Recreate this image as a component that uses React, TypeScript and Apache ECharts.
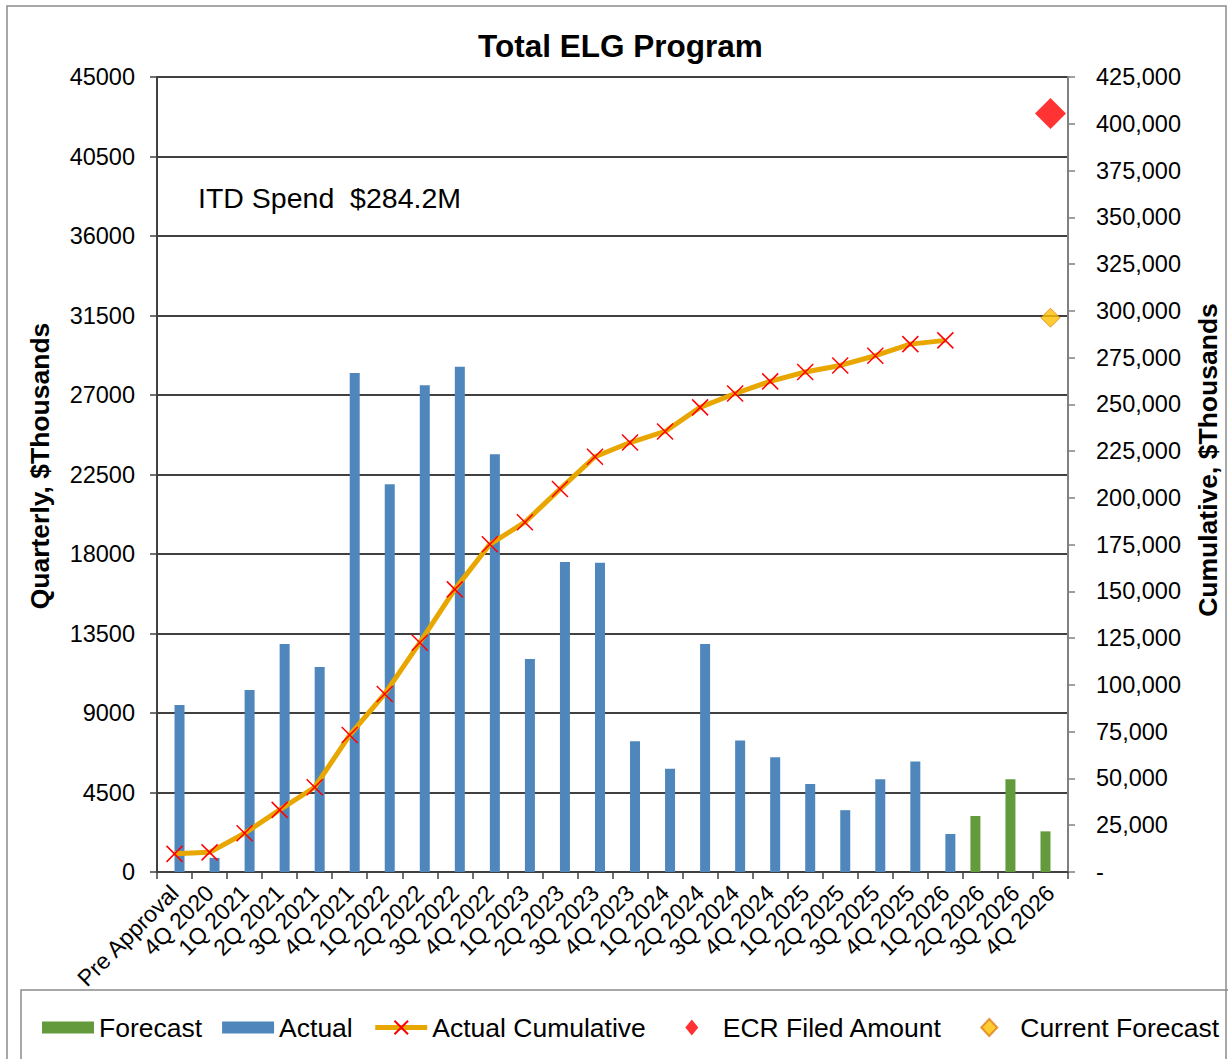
import React, { useEffect, useRef } from "react";
import * as echarts from "echarts";

const categories = [
  "Pre Approval", "4Q 2020", "1Q 2021", "2Q 2021", "3Q 2021", "4Q 2021",
  "1Q 2022", "2Q 2022", "3Q 2022", "4Q 2022", "1Q 2023", "2Q 2023",
  "3Q 2023", "4Q 2023", "1Q 2024", "2Q 2024", "3Q 2024", "4Q 2024",
  "1Q 2025", "2Q 2025", "3Q 2025", "4Q 2025", "1Q 2026", "2Q 2026",
  "3Q 2026", "4Q 2026",
];

const actual = [
  9450, 800, 10300, 12900, 11600, 28250, 21950, 27550, 28600, 23650, 12050,
  17550, 17500, 7400, 5850, 12900, 7450, 6500, 4980, 3500, 5250, 6250, 2150,
  null, null, null,
];

const forecast = [
  null, null, null, null, null, null, null, null, null, null, null, null, null,
  null, null, null, null, null, null, null, null, null, null, 3170, 5250, 2300,
];

const actualCumulative = [
  9700, 10500, 20700, 33200, 45300, 73200, 95200, 122600, 151100, 175200,
  187000, 204700, 222000, 229600, 235500, 248400, 255800, 262300, 267300,
  270800, 276000, 282200, 284200,
];

const ecrFiled = [["4Q 2026", 405500]];
const currentForecast = [["4Q 2026", 296300]];

const leftTicks = { min: 0, max: 45000, interval: 4500 };
const rightTicks = { min: 0, max: 425000, interval: 25000 };

const FONT = "'Liberation Sans', Arial, sans-serif";

// legend icons: bounding box 52 x 17 kept by degenerate corner points
const RECT_ICON = "path://M0,0L0,0ZM52,17L52,17ZM0,2.5L52,2.5L52,14.5L0,14.5Z";
const RED_DIAMOND_ICON = "path://M0,0L0,0ZM52,17L52,17ZM26,0.5L32.5,8.5L26,16.5L19.5,8.5Z";
const ORANGE_DIAMOND_ICON = "path://M0,0L0,0ZM52,17L52,17ZM26,0L34,8.5L26,17L18,8.5Z";

export default function App() {
  const ref = useRef<HTMLDivElement>(null);

  useEffect(() => {
    if (!ref.current) return;
    const chart = echarts.init(ref.current, null, { renderer: "svg" });
    const xSymbol = "path://M0,0L10,10M10,0L0,10";
    chart.setOption({
      animation: false,
      backgroundColor: "#ffffff",
      textStyle: { fontFamily: FONT, color: "#000" },
      title: {
        text: "Total ELG Program",
        left: 473,
        top: 25,
        textStyle: { fontFamily: FONT, fontSize: 31.5, fontWeight: "bold", color: "#000" },
      },
      grid: { left: 157, right: 160, top: 77, bottom: 187, containLabel: false },
      legend: {
        left: 37,
        top: 1009,
        width: 1190,
        itemWidth: 52,
        itemHeight: 17,
        itemGap: 20,
        lineStyle: { width: 5, color: "#E8A600" },
        textStyle: { fontFamily: FONT, fontSize: 26.5, color: "#000" },
        data: [
          { name: "Forecast", icon: RECT_ICON },
          { name: "Actual", icon: RECT_ICON },
          { name: "Actual Cumulative" },
          { name: "ECR Filed Amount", icon: RED_DIAMOND_ICON },
          { name: "Current Forecast", icon: ORANGE_DIAMOND_ICON },
        ],
      },
      graphic: [
        {
          type: "rect",
          shape: { x: 7, y: 6, width: 1219, height: 1060 },
          style: { fill: "none", stroke: "#8c8c8c", lineWidth: 1.5 },
          silent: true,
        },
        {
          type: "rect",
          shape: { x: 21, y: 990, width: 1210, height: 80 },
          style: { fill: "#fff", stroke: "#8c8c8c", lineWidth: 1.5 },
          silent: true,
          z: -1,
        },
        {
          type: "text",
          x: 198,
          y: 198,
          style: {
            text: "ITD Spend  $284.2M",
            font: `28.5px ${FONT}`,
            fill: "#000",
            align: "left",
            verticalAlign: "middle",
          },
        },
        {
          type: "text",
          x: 40,
          y: 466,
          rotation: Math.PI / 2,
          style: {
            text: "Quarterly, $Thousands",
            font: `bold 26.5px ${FONT}`,
            fill: "#000",
            align: "center",
            verticalAlign: "middle",
          },
        },
        {
          type: "text",
          x: 1208,
          y: 460,
          rotation: Math.PI / 2,
          style: {
            text: "Cumulative, $Thousands",
            font: `bold 26.5px ${FONT}`,
            fill: "#000",
            align: "center",
            verticalAlign: "middle",
          },
        },
      ],
      xAxis: {
        type: "category",
        data: categories,
        boundaryGap: true,
        axisLine: { show: true, lineStyle: { color: "#404040", width: 2 } },
        axisTick: { show: true, alignWithLabel: false, length: 7, lineStyle: { color: "#404040", width: 1.5 } },
        axisLabel: {
          interval: 0,
          rotate: 45,
          margin: 17,
          fontFamily: FONT,
          fontSize: 23,
          color: "#000",
        },
      },
      yAxis: [
        {
          type: "value",
          ...leftTicks,
          axisLine: { show: true, lineStyle: { color: "#404040", width: 2 } },
          axisTick: { show: true, length: 7, lineStyle: { color: "#404040", width: 1.5 } },
          axisLabel: {
            margin: 22,
            fontFamily: FONT,
            fontSize: 23.5,
            color: "#000",
            formatter: (v: number) => String(v),
          },
          splitLine: { show: true, lineStyle: { color: "#000", width: 1.5 } },
        },
        {
          type: "value",
          ...rightTicks,
          position: "right",
          axisLine: { show: true, lineStyle: { color: "#808080", width: 2 } },
          axisTick: { show: true, length: 7, lineStyle: { color: "#808080", width: 1.5 } },
          axisLabel: {
            margin: 28,
            fontFamily: FONT,
            fontSize: 23.5,
            color: "#000",
            formatter: (v: number) => (v === 0 ? "-" : v.toLocaleString("en-US")),
          },
          splitLine: { show: false },
        },
      ],
      series: [
        {
          name: "Forecast",
          type: "bar",
          data: forecast,
          barWidth: 10,
          barGap: "0%",
          itemStyle: { color: "#639A3C" },
          z: 2,
        },
        {
          name: "Actual",
          type: "bar",
          data: actual,
          barWidth: 10,
          barGap: "0%",
          itemStyle: { color: "#4F87BC" },
          z: 2,
        },
        {
          name: "Actual Cumulative",
          type: "line",
          yAxisIndex: 1,
          data: actualCumulative,
          symbol: xSymbol,
          symbolSize: 16,
          showSymbol: true,
          lineStyle: { color: "#E8A600", width: 5 },
          itemStyle: { color: "#FF0000", borderColor: "#FF0000", borderWidth: 1.5 },
          z: 5,
        },
        {
          name: "ECR Filed Amount",
          type: "scatter",
          yAxisIndex: 1,
          data: ecrFiled,
          symbol: "diamond",
          symbolSize: 31,
          itemStyle: { color: "#FF0000" },
          z: 6,
        },
        {
          name: "Current Forecast",
          type: "scatter",
          yAxisIndex: 1,
          data: currentForecast,
          symbol: "diamond",
          symbolSize: 19,
          itemStyle: { color: "#FFC000", borderColor: "#E0801A", borderWidth: 1 },
          z: 6,
        },
      ],
    });
    return () => chart.dispose();
  }, []);

  return (
    <div
      ref={ref}
      style={{ position: "fixed", left: 0, top: 0, width: 1228, height: 1059 }}
    />
  );
}
